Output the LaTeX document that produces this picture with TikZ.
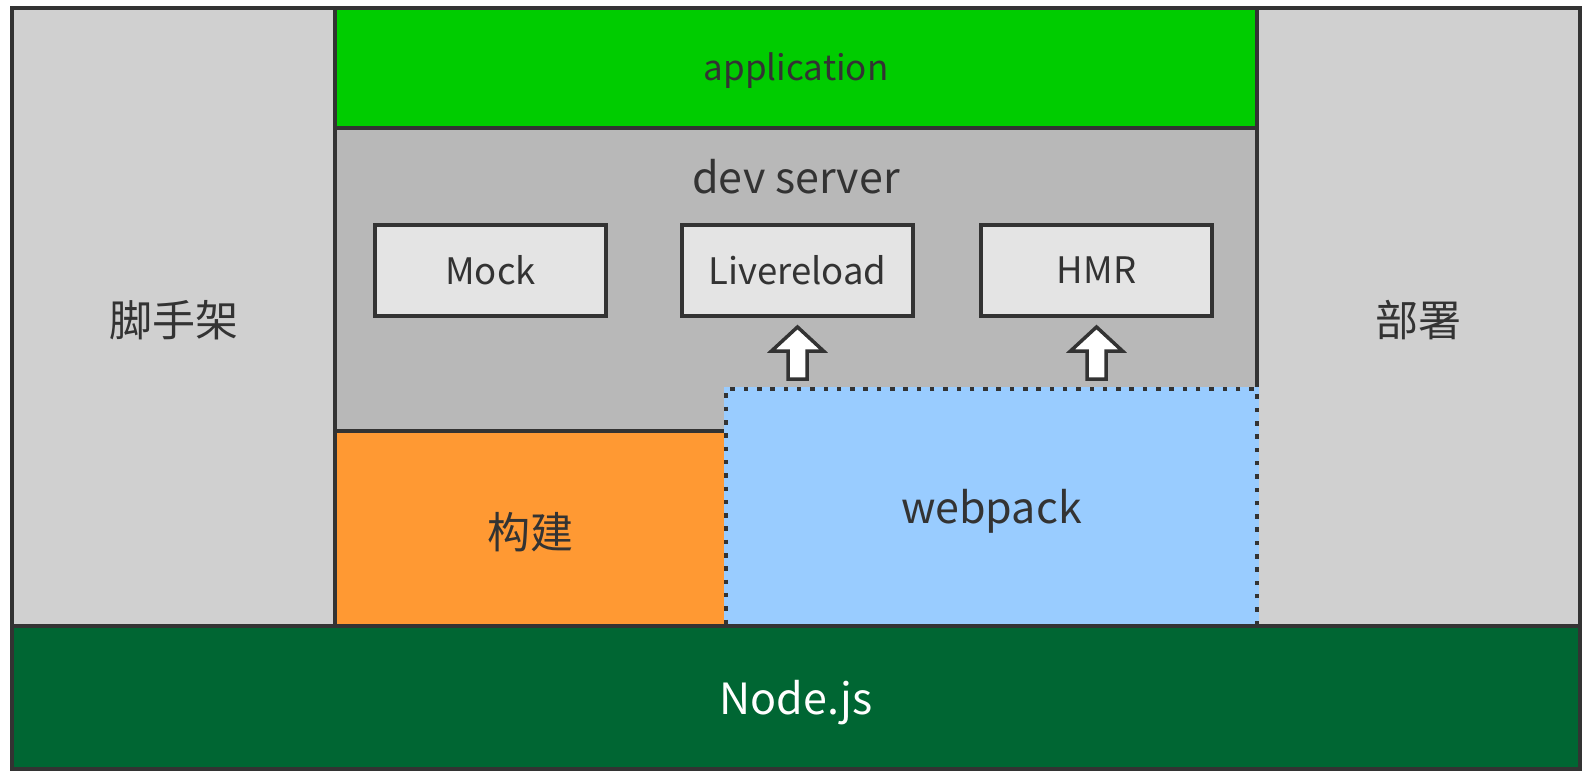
\documentclass[tikz,border=0pt]{standalone}
\usepackage{fontspec}
\setmainfont{Noto Sans CJK SC}
\usetikzlibrary{positioning,calc}

\definecolor{framegray}{HTML}{333333}
\definecolor{textgray}{HTML}{333333}
\definecolor{sidegray}{HTML}{D0D0D0}
\definecolor{servergray}{HTML}{B8B8B8}
\definecolor{modgray}{HTML}{E4E4E4}
\definecolor{appgreen}{HTML}{00CC00}
\definecolor{buildorange}{HTML}{FF9933}
\definecolor{packblue}{HTML}{99CCFF}
\definecolor{nodegreen}{HTML}{006633}

\tikzset{
  layer/.style={draw=framegray,line width=4pt,inner sep=0pt,outer sep=0pt,anchor=north west,text=textgray},
  module/.style={layer,line width=4.5pt,fill=modgray,minimum width=231pt,minimum height=91pt,font=\fontsize{36.5}{36.5}\selectfont},
  packbox/.style={layer,fill=packblue,dash pattern=on 4.5pt off 8.8pt,preaction={draw=packblue,solid,line width=4pt}},
  hollow/.style={draw=framegray,line width=3.5pt,fill=white},
  bigfont/.style={font=\fontsize{43}{43}\selectfont},
  cjkfont/.style={font=\fontsize{43}{43}\selectfont,text height=39pt,text depth=0pt}
}

\begin{document}
\begin{tikzpicture}[x=1pt,y=-1pt]
    \useasboundingbox (0,0) rectangle (1583,772);
    % layers
    \node[layer,draw=none,fill=buildorange,minimum width=391pt,minimum height=195pt,cjkfont] (build) at (335,431) {构建};
    \node[layer,fill=appgreen,minimum width=922pt,minimum height=120pt,font=\fontsize{35}{35}\selectfont,text depth=3pt] (app) at (335,8) {application};
    \node[layer,fill=sidegray,minimum width=323pt,minimum height=618pt,cjkfont] (cli) at (12,8) {脚手架};
    \node[layer,fill=sidegray,minimum width=323pt,minimum height=618pt,cjkfont] (deploy) at (1257,8) {部署};
    \node[layer,fill=servergray,minimum width=922pt,minimum height=303pt] (dev) at (335,128) {};
    \node[text=textgray,bigfont] (devtitle) at (796,177) {dev server};
    % dev server modules
    \node[module] (mock) at (375,225) {Mock};
    \node[module,right=76pt of mock] (live) {Livereload};
    \node[module,right=68pt of live] (hmr) {HMR};
    \node[packbox,minimum width=531pt,minimum height=237pt,bigfont,text depth=2pt] (webpack) at (726,389) {webpack};
    \node[layer,fill=nodegreen,text=white,minimum width=1568pt,minimum height=143pt,bigfont,text depth=0pt] (nodejs) at (12,626) {Node.js};
    % arrows
    \foreach \b in {live,hmr}
        \draw[hollow] ($(\b.south)+(0,11)$) -- ++(26,24) -- ++(-16.5,0) -- ++(0,28) -- ++(-19,0) -- ++(0,-28) -- ++(-16.5,0) -- cycle;
\end{tikzpicture}
\end{document}
